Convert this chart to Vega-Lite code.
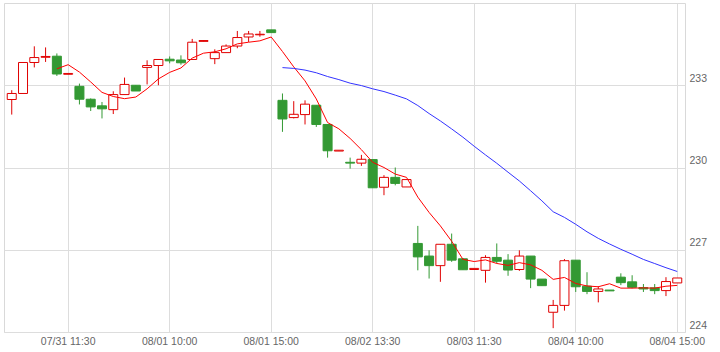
{
  "$schema": "https://vega.github.io/schema/vega-lite/v6.json",
  "width": 681,
  "height": 329,
  "autosize": {"type": "none"},
  "padding": {"left": 4, "top": 3, "right": 35, "bottom": 20},
  "background": "white",
  "config": {
    "view": {"stroke": "#d9d9d9", "strokeWidth": 1},
    "axis": {
      "labelFont": "Liberation Sans",
      "labelFontSize": 10.5,
      "labelColor": "#666666",
      "gridColor": "#dddddd",
      "gridWidth": 1,
      "domain": false,
      "ticks": false,
      "title": null
    }
  },
  "data": {
    "values": [
      {"t": "07/31 09:00", "open": 232.48, "high": 232.82, "low": 231.93, "close": 232.70, "ma5": null, "ma25": null},
      {"t": "07/31 09:30", "open": 232.70, "high": 233.83, "low": 232.70, "close": 233.83, "ma5": null, "ma25": null},
      {"t": "07/31 10:00", "open": 233.83, "high": 234.42, "low": 233.65, "close": 234.01, "ma5": null, "ma25": null},
      {"t": "07/31 10:30", "open": 234.02, "high": 234.38, "low": 233.85, "close": 234.05, "ma5": null, "ma25": null},
      {"t": "07/31 11:00", "open": 234.06, "high": 234.16, "low": 233.34, "close": 233.41, "ma5": 233.60, "ma25": null},
      {"t": "07/31 11:30", "open": 233.40, "high": 233.43, "low": 233.40, "close": 233.43, "ma5": 233.75, "ma25": null},
      {"t": "07/31 12:30", "open": 232.96, "high": 233.06, "low": 232.30, "close": 232.49, "ma5": 233.48, "ma25": null},
      {"t": "07/31 13:00", "open": 232.49, "high": 232.52, "low": 232.06, "close": 232.21, "ma5": 233.12, "ma25": null},
      {"t": "07/31 13:30", "open": 232.25, "high": 232.39, "low": 231.79, "close": 232.14, "ma5": 232.74, "ma25": null},
      {"t": "07/31 14:00", "open": 232.11, "high": 232.78, "low": 231.95, "close": 232.66, "ma5": 232.59, "ma25": null},
      {"t": "07/31 14:30", "open": 232.66, "high": 233.28, "low": 232.66, "close": 233.03, "ma5": 232.51, "ma25": null},
      {"t": "07/31 15:00", "open": 233.00, "high": 233.00, "low": 232.79, "close": 232.79, "ma5": 232.57, "ma25": null},
      {"t": "08/01 09:00", "open": 233.65, "high": 233.91, "low": 233.03, "close": 233.72, "ma5": 232.87, "ma25": null},
      {"t": "08/01 09:30", "open": 233.72, "high": 233.94, "low": 233.00, "close": 233.94, "ma5": 233.23, "ma25": null},
      {"t": "08/01 10:00", "open": 233.95, "high": 234.05, "low": 233.80, "close": 233.89, "ma5": 233.47, "ma25": null},
      {"t": "08/01 10:30", "open": 233.92, "high": 234.09, "low": 233.75, "close": 233.82, "ma5": 233.63, "ma25": null},
      {"t": "08/01 11:00", "open": 233.94, "high": 234.69, "low": 233.94, "close": 234.57, "ma5": 233.99, "ma25": null},
      {"t": "08/01 11:30", "open": 234.60, "high": 234.63, "low": 234.60, "close": 234.63, "ma5": 234.17, "ma25": null},
      {"t": "08/01 12:30", "open": 233.97, "high": 234.31, "low": 233.77, "close": 234.19, "ma5": 234.22, "ma25": null},
      {"t": "08/01 13:00", "open": 234.19, "high": 234.49, "low": 234.19, "close": 234.43, "ma5": 234.33, "ma25": null},
      {"t": "08/01 13:30", "open": 234.43, "high": 234.98, "low": 234.35, "close": 234.74, "ma5": 234.51, "ma25": null},
      {"t": "08/01 14:00", "open": 234.76, "high": 234.98, "low": 234.58, "close": 234.87, "ma5": 234.57, "ma25": null},
      {"t": "08/01 14:30", "open": 234.84, "high": 234.98, "low": 234.77, "close": 234.86, "ma5": 234.62, "ma25": null},
      {"t": "08/01 15:00", "open": 235.02, "high": 235.02, "low": 234.92, "close": 234.92, "ma5": 234.76, "ma25": null},
      {"t": "08/02 09:00", "open": 232.45, "high": 232.70, "low": 231.30, "close": 231.77, "ma5": 234.23, "ma25": 233.644},
      {"t": "08/02 09:30", "open": 231.82, "high": 232.42, "low": 231.79, "close": 231.94, "ma5": 233.67, "ma25": 233.614},
      {"t": "08/02 10:00", "open": 231.93, "high": 232.45, "low": 231.57, "close": 232.31, "ma5": 233.16, "ma25": 233.553},
      {"t": "08/02 10:30", "open": 232.27, "high": 232.27, "low": 231.48, "close": 231.57, "ma5": 232.50, "ma25": 233.455},
      {"t": "08/02 11:00", "open": 231.57, "high": 231.57, "low": 230.36, "close": 230.61, "ma5": 231.64, "ma25": 233.318},
      {"t": "08/02 11:30", "open": 230.60, "high": 230.63, "low": 230.60, "close": 230.63, "ma5": 231.41, "ma25": 233.206},
      {"t": "08/02 12:30", "open": 230.19, "high": 230.36, "low": 229.96, "close": 230.16, "ma5": 231.06, "ma25": 233.076},
      {"t": "08/02 13:00", "open": 230.16, "high": 230.46, "low": 230.06, "close": 230.30, "ma5": 230.65, "ma25": 232.988},
      {"t": "08/02 13:30", "open": 230.29, "high": 230.29, "low": 229.26, "close": 229.26, "ma5": 230.19, "ma25": 232.870},
      {"t": "08/02 14:00", "open": 229.28, "high": 229.72, "low": 228.99, "close": 229.64, "ma5": 230.00, "ma25": 232.770},
      {"t": "08/02 14:30", "open": 229.64, "high": 230.00, "low": 229.35, "close": 229.42, "ma5": 229.76, "ma25": 232.640},
      {"t": "08/02 15:00", "open": 229.29, "high": 229.56, "low": 229.29, "close": 229.56, "ma5": 229.64, "ma25": 232.502},
      {"t": "08/03 09:00", "open": 227.23, "high": 227.87, "low": 226.25, "close": 226.74, "ma5": 228.92, "ma25": 232.260},
      {"t": "08/03 09:30", "open": 226.77, "high": 226.98, "low": 225.95, "close": 226.42, "ma5": 228.36, "ma25": 231.968},
      {"t": "08/03 10:00", "open": 226.42, "high": 227.20, "low": 225.83, "close": 227.20, "ma5": 227.87, "ma25": 231.698},
      {"t": "08/03 10:30", "open": 227.20, "high": 227.59, "low": 226.56, "close": 226.62, "ma5": 227.31, "ma25": 231.407},
      {"t": "08/03 11:00", "open": 226.67, "high": 226.70, "low": 226.27, "close": 226.27, "ma5": 226.65, "ma25": 231.105},
      {"t": "08/03 11:30", "open": 226.28, "high": 226.32, "low": 226.28, "close": 226.32, "ma5": 226.57, "ma25": 230.775},
      {"t": "08/03 12:30", "open": 226.25, "high": 226.80, "low": 225.80, "close": 226.72, "ma5": 226.63, "ma25": 230.459},
      {"t": "08/03 13:00", "open": 226.72, "high": 227.23, "low": 226.50, "close": 226.58, "ma5": 226.50, "ma25": 230.154},
      {"t": "08/03 13:30", "open": 226.62, "high": 226.84, "low": 226.05, "close": 226.26, "ma5": 226.43, "ma25": 229.828},
      {"t": "08/03 14:00", "open": 226.28, "high": 226.98, "low": 226.23, "close": 226.77, "ma5": 226.53, "ma25": 229.509},
      {"t": "08/03 14:30", "open": 226.77, "high": 226.77, "low": 225.60, "close": 225.93, "ma5": 226.45, "ma25": 229.151},
      {"t": "08/03 15:00", "open": 225.93, "high": 225.93, "low": 225.69, "close": 225.69, "ma5": 226.25, "ma25": 228.784},
      {"t": "08/04 09:00", "open": 224.72, "high": 225.17, "low": 224.14, "close": 224.97, "ma5": 225.92, "ma25": 228.386},
      {"t": "08/04 09:30", "open": 224.97, "high": 226.66, "low": 224.78, "close": 226.60, "ma5": 225.99, "ma25": 228.180},
      {"t": "08/04 10:00", "open": 226.62, "high": 226.62, "low": 225.46, "close": 225.65, "ma5": 225.77, "ma25": 227.928},
      {"t": "08/04 10:30", "open": 225.67, "high": 226.18, "low": 225.38, "close": 225.48, "ma5": 225.68, "ma25": 227.655},
      {"t": "08/04 11:00", "open": 225.48, "high": 225.67, "low": 225.08, "close": 225.57, "ma5": 225.65, "ma25": 227.415},
      {"t": "08/04 11:30", "open": 225.53, "high": 225.53, "low": 225.50, "close": 225.50, "ma5": 225.76, "ma25": 227.210},
      {"t": "08/04 12:30", "open": 226.00, "high": 226.14, "low": 225.71, "close": 225.80, "ma5": 225.60, "ma25": 227.017},
      {"t": "08/04 13:00", "open": 225.83, "high": 226.07, "low": 225.59, "close": 225.63, "ma5": 225.60, "ma25": 226.836},
      {"t": "08/04 13:30", "open": 225.62, "high": 225.75, "low": 225.46, "close": 225.57, "ma5": 225.61, "ma25": 226.647},
      {"t": "08/04 14:00", "open": 225.61, "high": 225.75, "low": 225.38, "close": 225.51, "ma5": 225.60, "ma25": 226.497},
      {"t": "08/04 14:30", "open": 225.51, "high": 226.00, "low": 225.31, "close": 225.84, "ma5": 225.67, "ma25": 226.345},
      {"t": "08/04 15:00", "open": 225.79, "high": 225.97, "low": 225.79, "close": 225.97, "ma5": 225.70, "ma25": 226.207}
    ]
  },
  "encoding": {
    "x": {
      "field": "t",
      "type": "ordinal",
      "sort": null,
      "scale": {"type": "band", "paddingInner": 0, "paddingOuter": 0.187},
      "axis": {
        "values": ["07/31 11:30", "08/01 10:00", "08/01 15:00", "08/02 13:30", "08/03 11:30", "08/04 10:00", "08/04 15:00"],
        "bandPosition": 0.5,
        "grid": true,
        "labelAngle": 0,
        "labelPadding": 4,
        "title": null
      }
    }
  },
  "layer": [
    {
      "mark": {"type": "rule", "strokeWidth": 1},
      "encoding": {
        "y": {
          "field": "low",
          "type": "quantitative",
          "scale": {"domain": [224, 236], "zero": false, "nice": false},
          "axis": {
            "orient": "right",
            "values": [224, 227, 230, 233],
            "grid": true,
            "labelPadding": 4,
            "labelBaseline": "alphabetic",
            "labelOffset": -4,
            "labelAlign": "left",
            "title": null
          }
        },
        "y2": {"field": "high"},
        "color": {"condition": {"test": "datum.close >= datum.open", "value": "#e00000"}, "value": "#339933"}
      }
    },
    {
      "mark": {"type": "bar", "width": 9, "strokeWidth": 1},
      "encoding": {
        "y": {"field": "open", "type": "quantitative", "axis": {"title": null}},
        "y2": {"field": "close"},
        "fill": {"condition": {"test": "datum.close >= datum.open", "value": "#ffffff"}, "value": "#339933"},
        "stroke": {"condition": {"test": "datum.close >= datum.open", "value": "#e00000"}, "value": "#339933"}
      }
    },
    {
      "mark": {"type": "line", "stroke": "#ff0000", "strokeWidth": 1},
      "encoding": {
        "y": {"field": "ma5", "type": "quantitative", "axis": {"title": null}}
      }
    },
    {
      "mark": {"type": "line", "stroke": "#3333ff", "strokeWidth": 1},
      "encoding": {
        "y": {"field": "ma25", "type": "quantitative", "axis": {"title": null}}
      }
    }
  ]
}
